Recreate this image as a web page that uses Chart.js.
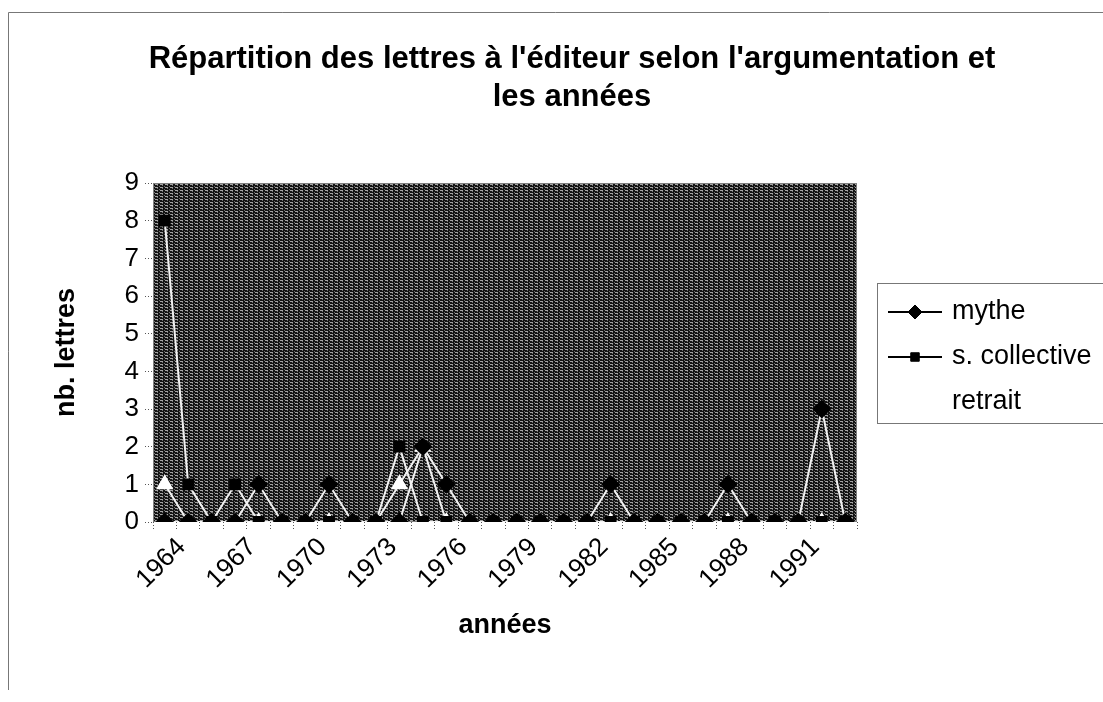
<!DOCTYPE html>
<html>
<head>
<meta charset="utf-8">
<script src="https://cdn.jsdelivr.net/npm/chart.js@4/dist/chart.umd.min.js"></script>
<style>
  body { margin: 0; background: #fff; }
  canvas { display: block; }
</style>
</head>
<body>
<canvas id="chart" width="1103" height="702"></canvas>
<script>
// années 1964 - 1993
const years = [1964, 1965, 1966, 1967, 1968, 1969, 1970, 1971, 1972, 1973,
               1974, 1975, 1976, 1977, 1978, 1979, 1980, 1981, 1982, 1983,
               1984, 1985, 1986, 1987, 1988, 1989, 1990, 1991, 1992, 1993];
const shownYears = [1964, 1967, 1970, 1973, 1976, 1979, 1982, 1985, 1988, 1991];
const yTicks = [0, 1, 2, 3, 4, 5, 6, 7, 8, 9];

const mythe        = [0, 0, 0, 0, 1, 0, 0, 1, 0, 0,  0, 2, 1, 0, 0, 0, 0, 0, 0, 1,  0, 0, 0, 0, 1, 0, 0, 0, 3, 0];
const sCollective  = [8, 1, 0, 1, 0, 0, 0, 0, 0, 0,  2, 0, 0, 0, 0, 0, 0, 0, 0, 0,  0, 0, 0, 0, 0, 0, 0, 0, 0, 0];
const retrait      = [1, 0, 0, 0, 0, 0, 0, 0, 0, 0,  1, 2, 0, 0, 0, 0, 0, 0, 0, 0,  0, 0, 0, 0, 0, 0, 0, 0, 0, 0];

const legendLineColors = ['#000', '#000', '#fff'];

// fond tramé gris foncé de la zone de traçage
function makePattern(ctx) {
  const c = document.createElement('canvas');
  c.width = 5; c.height = 3;
  const p = c.getContext('2d');
  p.fillStyle = '#141414'; p.fillRect(0, 0, 5, 3);
  p.fillStyle = '#a4a4a4'; p.fillRect(0, 1, 3, 1);
  p.fillStyle = '#707070'; p.fillRect(4, 0, 1, 1); p.fillRect(2, 2, 1, 1);
  return ctx.createPattern(c, 'repeat');
}

const backgroundPlugin = {
  id: 'fond',
  beforeDraw(chart) {
    const ctx = chart.ctx;
    const a = chart.chartArea;
    ctx.save();
    ctx.fillStyle = '#fff';
    ctx.fillRect(0, 0, chart.width, chart.height);
    // cadre extérieur
    ctx.strokeStyle = '#777';
    ctx.lineWidth = 1;
    ctx.beginPath();
    ctx.moveTo(8.5, 690); ctx.lineTo(8.5, 12.5); ctx.lineTo(chart.width, 12.5);
    ctx.stroke();
    // zone de traçage
    ctx.fillStyle = makePattern(ctx);
    ctx.fillRect(a.left, a.top, a.right - a.left, a.bottom - a.top);
    ctx.strokeStyle = '#808080';
    ctx.strokeRect(a.left + 0.5, a.top + 0.5, a.right - a.left - 1, a.bottom - a.top - 1);
    ctx.restore();
  }
};

const titlePlugin = {
  id: 'titre',
  afterDraw(chart) {
    const ctx = chart.ctx;
    ctx.save();
    ctx.fillStyle = '#000';
    ctx.font = 'bold 31px "Liberation Sans", Arial, sans-serif';
    ctx.textAlign = 'center';
    ctx.textBaseline = 'middle';
    ctx.fillText("Répartition des lettres à l'éditeur selon l'argumentation et", 572, 59);
    ctx.fillText('les années', 572, 97);
    ctx.restore();
  }
};

const legendPlugin = {
  id: 'legende',
  afterDraw(chart) {
    const ctx = chart.ctx;
    ctx.save();
    ctx.strokeStyle = '#777';
    ctx.lineWidth = 1;
    ctx.strokeRect(877.5, 283.5, 260, 140);
    ctx.font = '27px "Liberation Sans", Arial, sans-serif';
    ctx.textBaseline = 'middle';
    chart.data.datasets.forEach((ds, i) => {
      const y = 312 + i * 45;
      ctx.strokeStyle = legendLineColors[i];
      ctx.fillStyle = legendLineColors[i];
      ctx.lineWidth = 2;
      ctx.beginPath();
      ctx.moveTo(888, y); ctx.lineTo(942, y);
      ctx.stroke();
      ctx.lineWidth = 1;
      Chart.helpers.drawPoint(ctx, { pointStyle: ds.pointStyle, radius: ds.pointRadius - 1, borderWidth: 1, rotation: 0 }, 915, y);
      ctx.fillStyle = '#000';
      ctx.fillText(ds.label, 952, y);
    });
    ctx.restore();
  }
};

const tickFont = { family: '"Liberation Sans", Arial, sans-serif', size: 26 };
const titleFont = { family: '"Liberation Sans", Arial, sans-serif', size: 27, weight: 'bold' };

new Chart(document.getElementById('chart'), {
  type: 'line',
  data: {
    labels: years,
    datasets: [
      {
        label: 'mythe',
        data: mythe,
        borderColor: '#f2f2f2',
        borderWidth: 2,
        pointStyle: 'rectRot',
        pointRadius: 8,
        pointBackgroundColor: '#000',
        pointBorderColor: '#000',
        clip: 0
      },
      {
        label: 's. collective',
        data: sCollective,
        borderColor: '#f2f2f2',
        borderWidth: 2,
        pointStyle: 'rect',
        pointRadius: 7,
        pointBackgroundColor: '#000',
        pointBorderColor: '#000',
        clip: 0
      },
      {
        label: 'retrait',
        data: retrait,
        borderColor: '#f2f2f2',
        borderWidth: 2,
        pointStyle: 'triangle',
        pointRadius: 8,
        pointBackgroundColor: '#fff',
        pointBorderColor: '#fff',
        clip: 0
      }
    ]
  },
  options: {
    responsive: false,
    animation: false,
    devicePixelRatio: 1,
    layout: { padding: { top: 183, right: 246, bottom: 0, left: 0 } },
    plugins: {
      legend: { display: false },
      tooltip: { enabled: false },
      title: { display: false }
    },
    scales: {
      x: {
        type: 'category',
        offset: true,
        border: { display: false },
        grid: {
          offset: true,
          drawOnChartArea: false,
          drawTicks: true,
          tickLength: 8,
          color: '#555',
          tickBorderDash: [1, 2]
        },
        ticks: {
          autoSkip: false,
          minRotation: 45,
          maxRotation: 45,
          labelOffset: 17,
          padding: 2,
          color: '#000',
          font: tickFont,
          callback: function (value) {
            const yr = this.getLabelForValue(value);
            return shownYears.includes(yr) ? String(yr) : '';
          }
        },
        title: {
          display: true,
          text: 'années',
          color: '#000',
          font: titleFont,
          padding: { top: 0, bottom: 60 }
        },
        afterFit(scale) { scale.height = 180; }
      },
      y: {
        min: 0,
        max: 9,
        border: { display: false },
        grid: {
          drawOnChartArea: false,
          drawTicks: true,
          tickLength: 8,
          color: '#555',
          tickBorderDash: [1, 2]
        },
        afterBuildTicks(scale) {
          scale.ticks = yTicks.map(v => ({ value: v }));
        },
        ticks: {
          padding: 6,
          color: '#000',
          font: tickFont
        },
        title: {
          display: true,
          text: 'nb. lettres',
          color: '#000',
          font: titleFont,
          padding: { top: 50, bottom: 0 }
        },
        afterFit(scale) { scale.width = 153; }
      }
    }
  },
  plugins: [backgroundPlugin, titlePlugin, legendPlugin]
});
</script>
</body>
</html>
